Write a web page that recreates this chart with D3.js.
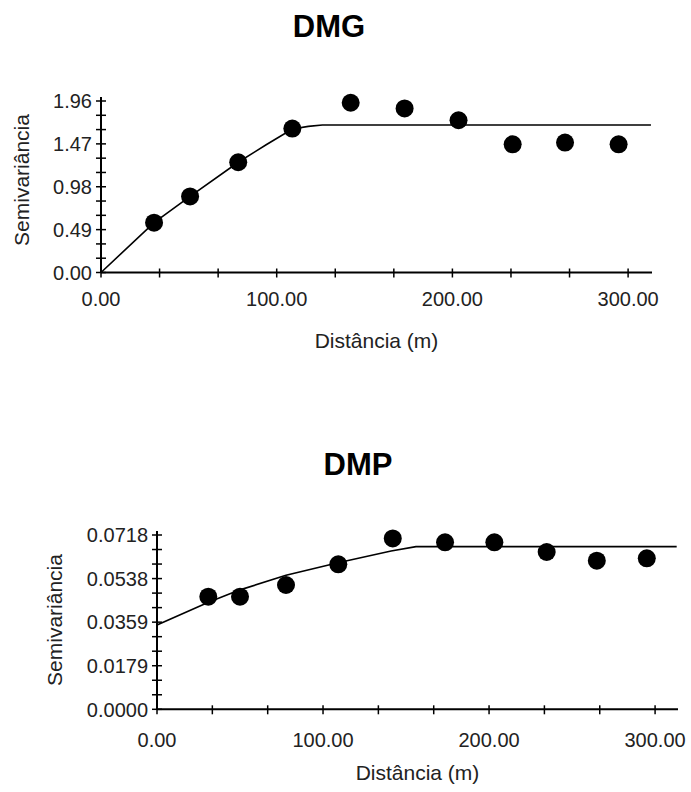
<!DOCTYPE html>
<html>
<head>
<meta charset="utf-8">
<script src="https://cdn.jsdelivr.net/npm/d3@7"></script>
<style>
  html, body { margin: 0; padding: 0; background: #fff; }
  svg { display: block; font-family: "Liberation Sans", Arial, sans-serif; }
</style>
</head>
<body>
<svg id="chart" width="691" height="792"></svg>
<script>
// Experimental semivariograms (lag distance in m, semivariance)
const dmgLag   = [30.2, 50.7, 78.1, 108.9, 142.1, 172.8, 203.5, 234.3, 264.1, 294.6];
const dmgGamma = [0.57, 0.87, 1.26, 1.645, 1.94, 1.875, 1.74, 1.465, 1.485, 1.465];
const dmpLag   = [30.9, 50.0, 77.7, 109.2, 142.0, 173.5, 203.2, 234.7, 264.9, 295.0];
const dmpGamma = [0.0464, 0.0464, 0.0512, 0.0597, 0.0704, 0.0688, 0.0688, 0.0648, 0.0612, 0.0622];

// Fitted model curves, sampled along the lag axis
const dmgModelLag   = [0, 30.2, 50.7, 78.1, 94, 108.9, 118, 126, 313];
const dmgModelGamma = [0, 0.57, 0.87, 1.26, 1.46, 1.64, 1.67, 1.685, 1.685];
const dmpModelLag   = [0, 31, 50, 77.7, 109, 141, 156, 313];
const dmpModelGamma = [0.0347, 0.0441, 0.0492, 0.0552, 0.0604, 0.0652, 0.067, 0.067];

// Axis labels
const xTickLabels    = ["0.00", "100.00", "200.00", "300.00"];
const dmgYTickLabels = ["0.00", "0.49", "0.98", "1.47", "1.96"];
const dmpYTickLabels = ["0.0000", "0.0179", "0.0359", "0.0538", "0.0718"];
const titles = ["DMG", "DMP"];
const xTitle = "Distância (m)";
const yTitle = "Semivariância";

const svg = d3.select("#chart");

function panel(cfg) {
  const g = svg.append("g");
  const x = d3.scaleLinear().domain([0, cfg.xMax]).range([cfg.left, cfg.right]);
  const y = d3.scaleLinear().domain([0, cfg.yMax]).range([cfg.bottom, cfg.top]);

  // title
  g.append("text")
    .attr("x", cfg.titleX).attr("y", cfg.titleY)
    .attr("text-anchor", "middle")
    .attr("font-size", 31).attr("font-weight", "bold")
    .text(cfg.title);

  // y axis: 4 labelled divisions, each split in 3
  const yMinor = d3.range(0, 13).map(i => i * cfg.yMax / 12);
  g.append("line")
    .attr("x1", cfg.left).attr("x2", cfg.left)
    .attr("y1", cfg.top - 4).attr("y2", cfg.bottom)
    .attr("stroke", "#000").attr("stroke-width", 2);
  g.selectAll(".ytick").data(yMinor).enter().append("line")
    .attr("x1", cfg.left - 5).attr("x2", cfg.left + 5)
    .attr("y1", d => y(d)).attr("y2", d => y(d))
    .attr("stroke", "#000").attr("stroke-width", 1.5);
  g.selectAll(".ylab").data(cfg.yLabels).enter().append("text")
    .attr("x", cfg.left - 9)
    .attr("y", (d, i) => y(i * cfg.yMax / 4))
    .attr("dy", "0.36em")
    .attr("text-anchor", "end")
    .attr("font-size", 20).attr("fill", "#222")
    .text(d => d);

  // x axis: ticks every 100/3 m, labelled every 100 m
  const xMinor = d3.range(0, 10).map(i => i * 100 / 3);
  g.append("line")
    .attr("x1", cfg.left).attr("x2", cfg.right)
    .attr("y1", cfg.bottom).attr("y2", cfg.bottom)
    .attr("stroke", "#000").attr("stroke-width", 2);
  g.selectAll(".xtick").data(xMinor).enter().append("line")
    .attr("x1", d => x(d)).attr("x2", d => x(d))
    .attr("y1", cfg.bottom - 4).attr("y2", cfg.bottom + 5)
    .attr("stroke", "#000").attr("stroke-width", 1.5);
  g.selectAll(".xlab").data(xTickLabels).enter().append("text")
    .attr("x", (d, i) => x(i * 100))
    .attr("y", cfg.bottom + cfg.xLabelGap)
    .attr("text-anchor", "middle")
    .attr("font-size", 20).attr("fill", "#222")
    .text(d => d);

  // axis titles
  g.append("text")
    .attr("x", (cfg.left + cfg.right) / 2)
    .attr("y", cfg.bottom + cfg.xTitleGap)
    .attr("text-anchor", "middle")
    .attr("font-size", 21).attr("fill", "#222")
    .text(xTitle);
  g.append("text")
    .attr("transform", `translate(${cfg.yTitleX},${cfg.yTitleY}) rotate(-90)`)
    .attr("text-anchor", "middle")
    .attr("font-size", 21).attr("fill", "#222")
    .text(yTitle);

  // fitted model
  const model = cfg.modelLag.map((h, i) => [h, cfg.modelGamma[i]]);
  g.append("path")
    .datum(model)
    .attr("fill", "none").attr("stroke", "#000").attr("stroke-width", 1.6)
    .attr("d", d3.line().x(d => x(d[0])).y(d => y(d[1])));

  // experimental points
  const pts = cfg.lag.map((h, i) => [h, cfg.gamma[i]]);
  g.selectAll(".pt").data(pts).enter().append("circle")
    .attr("cx", d => x(d[0])).attr("cy", d => y(d[1]))
    .attr("r", 9).attr("fill", "#000");
}

panel({
  title: titles[0], titleX: 329, titleY: 37,
  left: 101, right: 652, top: 101, bottom: 272.5,
  xMax: 313.6, yMax: 1.96, yLabels: dmgYTickLabels,
  xLabelGap: 33, xTitleGap: 75, yTitleX: 29, yTitleY: 180,
  lag: dmgLag, gamma: dmgGamma, modelLag: dmgModelLag, modelGamma: dmgModelGamma
});

panel({
  title: titles[1], titleX: 358, titleY: 475,
  left: 157, right: 678, top: 535, bottom: 709.3,
  xMax: 313.8, yMax: 0.0718, yLabels: dmpYTickLabels,
  xLabelGap: 38, xTitleGap: 71, yTitleX: 62, yTitleY: 620,
  lag: dmpLag, gamma: dmpGamma, modelLag: dmpModelLag, modelGamma: dmpModelGamma
});
</script>
</body>
</html>
